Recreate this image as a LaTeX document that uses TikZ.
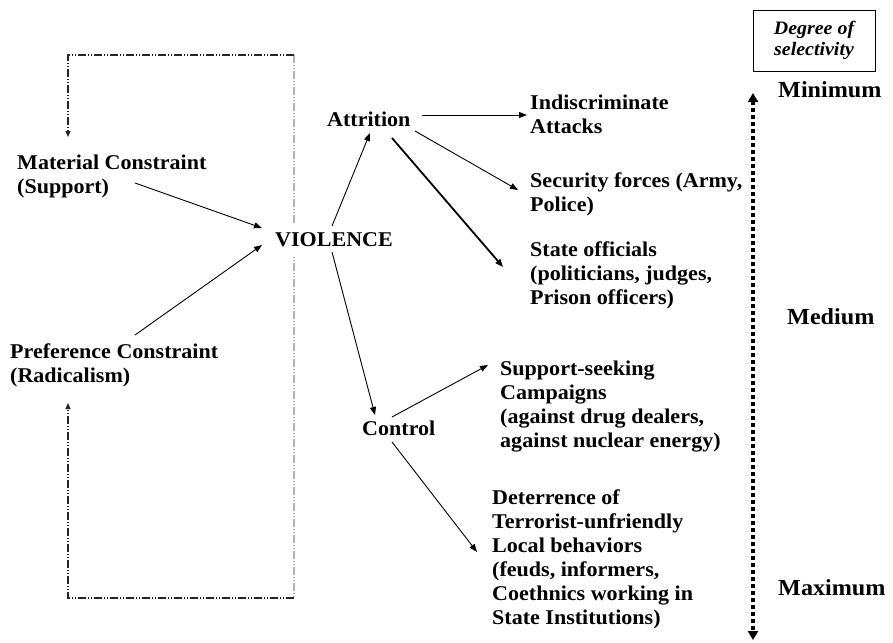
\documentclass[tikz,border=0pt]{standalone}
\usepackage{fontspec}
\setmainfont{Liberation Serif}[FakeStretch=1.05]
\usetikzlibrary{arrows.meta,backgrounds}
\begin{document}
\begin{tikzpicture}[x=1pt,y=-1pt,
  blk/.style={font=\bfseries\fontsize{21}{24}\selectfont, inner sep=0pt, align=left, anchor=north west},
  one/.style={font=\bfseries\fontsize{21}{24}\selectfont, inner sep=0pt, anchor=base west},
  lvl/.style={font=\bfseries\fontsize{23}{24}\selectfont, inner sep=0pt, anchor=base west},
  arr/.style={line width=0.9pt, -{Triangle[length=8pt,width=6pt]}},
  framestyle/.style={line width=1.1pt, dash pattern=on 8pt off 2pt on 1pt off 2pt on 1pt off 2pt},
  ftip/.style={-{Triangle[length=6pt,width=5pt]}}
]
\useasboundingbox (0,0) rectangle (893,642);

% text blocks
\node[blk] (mat) at (17,155) {Material Constraint\\(Support)};
\node[blk] (pref) at (10,344) {Preference Constraint\\(Radicalism)};
\node[one, fill=white, inner xsep=2pt, inner ysep=9pt] (vio) at (273,246) {VIOLENCE};
\node[one] (att) at (327,126) {Attrition};
\node[one] (ctl) at (362,435) {Control};
\node[blk] (ind) at (530,95) {Indiscriminate\\Attacks};
\node[blk] (sec) at (530,173) {Security forces (Army,\\Police)};
\node[blk] (sta) at (530,242) {State officials\\(politicians, judges,\\Prison officers)};
\node[blk] (sup) at (500,361) {Support-seeking\\Campaigns\\(against drug dealers,\\against nuclear energy)};
\node[blk] (det) at (492,490) {Deterrence of\\Terrorist-unfriendly\\Local behaviors\\(feuds, informers,\\Coethnics working in\\State Institutions)};

% selectivity scale
\node[draw, line width=0.9pt, minimum width=122pt, minimum height=61pt, inner sep=0pt, align=center,
      font=\bfseries\itshape\fontsize{19}{21}\selectfont] (deg) at (814,40.5) {Degree of\\selectivity};
\node[lvl] (min) at (778,97) {Minimum};
\node[lvl] (med) at (787,324) {Medium};
\node[lvl] (max) at (778,595) {Maximum};
\coordinate (dtop) at (753,93);
\coordinate (dbot) at (753,640);
\draw[line width=3.5pt, dash pattern=on 3.5pt off 3.5pt,
      {Triangle[length=9pt,width=10pt]}-{Triangle[length=9pt,width=10pt]}] (dtop) -- (dbot);

% feedback frame
\coordinate (tl) at (68,55);
\coordinate (tr) at (294,55);
\coordinate (br) at (294,598);
\coordinate (bl) at (68,598);
\begin{scope}[on background layer]
  \draw[framestyle, gray!60] (tr) -- (br);
  \draw[framestyle, black!85, ftip] (tr) -- (tl) -- ([shift={(51,-18)}]mat.north west);
  \draw[framestyle, black!85, ftip] (br) -- (bl) -- ([shift={(58,59)}]pref.north west);
\end{scope}

% connectors
\draw[arr] ([shift={(118,28)}]mat.north west) -- ([shift={(-11,-18)}]vio.base west);
\draw[arr] ([shift={(125,-9)}]pref.north west) -- ([shift={(-11,-1)}]vio.base west);
\draw[arr] ([shift={(59,-20)}]vio.base west) -- ([shift={(43,7)}]att.base west);
\draw[arr] ([shift={(59,6)}]vio.base west) -- ([shift={(13,-20)}]ctl.base west);
\draw[arr] ([shift={(95,-11)}]att.base west) -- ([shift={(-3,20)}]ind.north west);
\draw[arr] ([shift={(88,5)}]att.base west) -- ([shift={(-12,17)}]sec.north west);
\draw[arr, line width=1.8pt] ([shift={(65,12)}]att.base west) -- ([shift={(-27,25)}]sta.north west);
\draw[arr] ([shift={(30,-18)}]ctl.base west) -- ([shift={(-12,4)}]sup.north west);
\draw[arr] ([shift={(30,7)}]ctl.base west) -- ([shift={(-15,62)}]det.north west);
\end{tikzpicture}
\end{document}
